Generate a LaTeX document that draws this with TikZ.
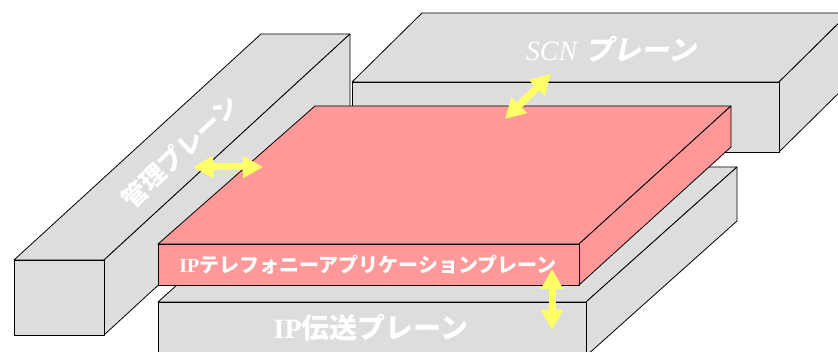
\documentclass[tikz,border=0pt]{standalone}
\usepackage{fontspec}
\setmainfont{Liberation Serif}
\newfontfamily\cjk{Noto Sans CJK JP}
\newfontfamily\cjkslant{Noto Sans CJK JP}[FakeSlant=0.2]
\usetikzlibrary{arrows.meta}
\definecolor{planegray}{HTML}{DDDDDD}
\definecolor{apppink}{HTML}{FF9999}
\definecolor{arrowyellow}{HTML}{FFFF66}
\begin{document}
\begin{tikzpicture}[x=1pt,y=-1pt,
  grayface/.style={draw=black, line width=0.8pt, fill=planegray, line join=round},
  pinkface/.style={draw=black, line width=0.8pt, fill=apppink, line join=round},
  planelabel/.style={text=white, inner sep=0pt, anchor=center},
  yarrow/.style={draw=arrowyellow, line width=7pt,
    {Triangle[length=20pt,width=21pt]}-{Triangle[length=20pt,width=21pt]}}]
\useasboundingbox (0,0) rectangle (838,352);

% SCN plane (back)
\draw[grayface] (352,82) -- (422,13) -- (849,13) -- (779,82) -- cycle;
\draw[grayface] (779,82) -- (849,13) -- (849,83) -- (779,152) -- cycle;
\draw[grayface] (352,82) rectangle (779,152);

% management plane
\draw[grayface] (14,260) -- (261,34) -- (350,34) -- (104,260) -- cycle;
\draw[grayface] (104,260) -- (350,34) -- (350,109) -- (104,335) -- cycle;
\draw[grayface] (14,260) rectangle (104,335);

% IP transport plane
\draw[grayface] (158,302) -- (308,167) -- (737,167) -- (586,302) -- cycle;
\draw[grayface] (586,302) -- (737,167) -- (737,221) -- (586,356) -- cycle;
\draw[grayface] (158,302) rectangle (586,358);

% IP telephony application plane
\draw[pinkface] (158,244) -- (315,106) -- (731,106) -- (579,244) -- cycle;
\draw[pinkface] (579,244) -- (731,106) -- (731,147) -- (579,285) -- cycle;
\draw[pinkface] (158,244) rectangle (579,285);

% labels
\node[planelabel, font=\fontsize{28}{28}\selectfont] (scn) at (611,49)
  {\textit{SCN} {\cjkslant\bfseries プレーン}};
\node[planelabel, font=\fontsize{25}{25}\selectfont, rotate=43.5] (mgmt) at (180,152)
  {\cjk\bfseries 管理プレーン};
\node[planelabel, font=\fontsize{20}{20}\selectfont] (app) at (368,265)
  {\textbf{IP}{\cjk\bfseries テレフォニーアプリケーションプレーン}};
\node[planelabel, font=\fontsize{28}{28}\selectfont] (trans) at (371,328)
  {\textbf{IP}{\cjk\bfseries 伝送プレーン}};

% interaction arrows
\coordinate (mA) at (193,167);
\coordinate (mB) at (263,167);
\coordinate (sA) at (551,74);
\coordinate (sB) at (505,119);
\coordinate (tA) at (552,269);
\coordinate (tB) at (552,330);
\draw[yarrow] (mA) -- (mB);
\draw[yarrow] (sA) -- (sB);
\draw[yarrow] (tA) -- (tB);
\end{tikzpicture}
\end{document}
